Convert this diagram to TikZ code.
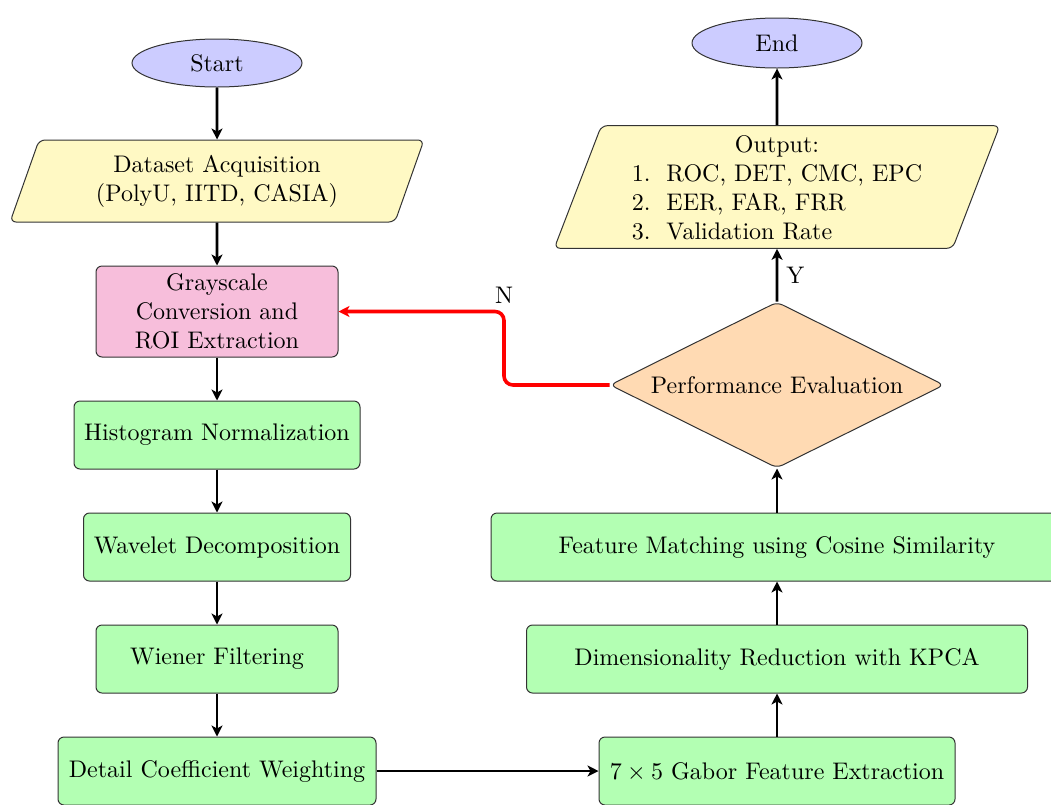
\documentclass[tikz,border=0pt]{standalone}
\usepackage{fontspec}
\setmainfont{lmroman10-regular.otf}
\usetikzlibrary{shapes.geometric,arrows.meta}
\definecolor{termc}{HTML}{CCCCFF}
\definecolor{ioc}{HTML}{FFF9C4}
\definecolor{pinkc}{HTML}{F7BEDB}
\definecolor{procc}{HTML}{B3FFB3}
\definecolor{decc}{HTML}{FFDAB3}
\begin{document}
\begin{tikzpicture}[x=1pt,y=-1pt,
  every node/.style={font=\fontsize{24}{29}\selectfont},
  base/.style={draw=black!80, line width=1pt},
  term/.style={base, ellipse, fill=termc, minimum width=170pt, minimum height=48pt},
  io/.style={base, trapezium, trapezium stretches=true, rounded corners=6pt, fill=ioc, align=center},
  proc/.style={base, rectangle, rounded corners=6pt, fill=procc, minimum height=68pt, align=center},
  dec/.style={base, diamond, shape aspect=2, inner sep=0pt, rounded corners=6pt, fill=decc, minimum width=334pt, minimum height=166pt},
  arr/.style={-{Stealth[length=11pt,width=11pt,inset=3pt]}, line width=2.9pt},
  narr/.style={arr, red, line width=3.6pt, rounded corners=9pt},
  lbl/.style={inner sep=8pt}]
\useasboundingbox (0,0) rectangle (1051,804);

\node[term] (start) at (217,63) {Start};
\node[io, trapezium left angle=71, trapezium right angle=109, minimum width=415pt, minimum height=82pt] (data) at (217,181) {Dataset Acquisition\\(PolyU, IITD, CASIA)};
\node[proc, fill=pinkc, minimum width=242pt, minimum height=91pt] (gray) at (217,311.5) {Grayscale\\Conversion and\\ROI Extraction};
\node[proc, minimum width=286pt] (hist) at (217,435) {Histogram Normalization};
\node[proc, minimum width=267pt] (wave) at (217,547) {Wavelet Decomposition};
\node[proc, minimum width=242pt] (wien) at (217,659) {Wiener Filtering};
\node[proc, minimum width=318pt] (detail) at (217,771) {Detail Coefficient Weighting};
\node[proc, minimum width=356pt] (gabor) at (777,771) {7\hspace{0.222em}×\hspace{0.222em}5 Gabor Feature Extraction};
\node[proc, minimum width=501pt] (dim) at (777,659) {Dimensionality Reduction with KPCA};
\node[proc, minimum width=572pt] (match) at (777,547) {Feature Matching using Cosine Similarity};
\node[dec] (perf) at (777,385) {Performance Evaluation};
\node[io, trapezium left angle=72, trapezium right angle=108, minimum width=448pt, minimum height=120pt] (out) at (777,187) {\raisebox{-3pt}[\height][\depth]{\begin{tabular}{@{}l@{\hspace{16pt}}l@{}}\multicolumn{2}{c}{Output:}\\1. & ROC, DET, CMC, EPC\\2. & EER, FAR, FRR\\3. & Validation Rate\end{tabular}}};
\node[term, minimum height=50pt] (end) at (777,43) {End};

\draw[arr] (start.south) -- (data.north);
\draw[arr] (data.south) -- (gray.north);
\draw[arr] (gray.south) -- (hist.north);
\draw[arr] (hist.south) -- (wave.north);
\draw[arr] (wave.south) -- (wien.north);
\draw[arr] (wien.south) -- (detail.north);
\draw[arr] (detail.east) -- (gabor.west);
\draw[arr] (gabor.north) -- (dim.south);
\draw[arr] (dim.north) -- (match.south);
\draw[arr] (match.north) -- (perf.south);
\draw[arr] (perf.north) -- node[right, lbl] (ylab) {Y} (out.south);
\draw[arr] (out.north) -- (end.south);

\coordinate (nc) at (504,311.5);
\draw[narr] (perf.west) -| (nc) -- (gray.east);
\node[above, lbl] (nlab) at (nc) {N};
\end{tikzpicture}
\end{document}
